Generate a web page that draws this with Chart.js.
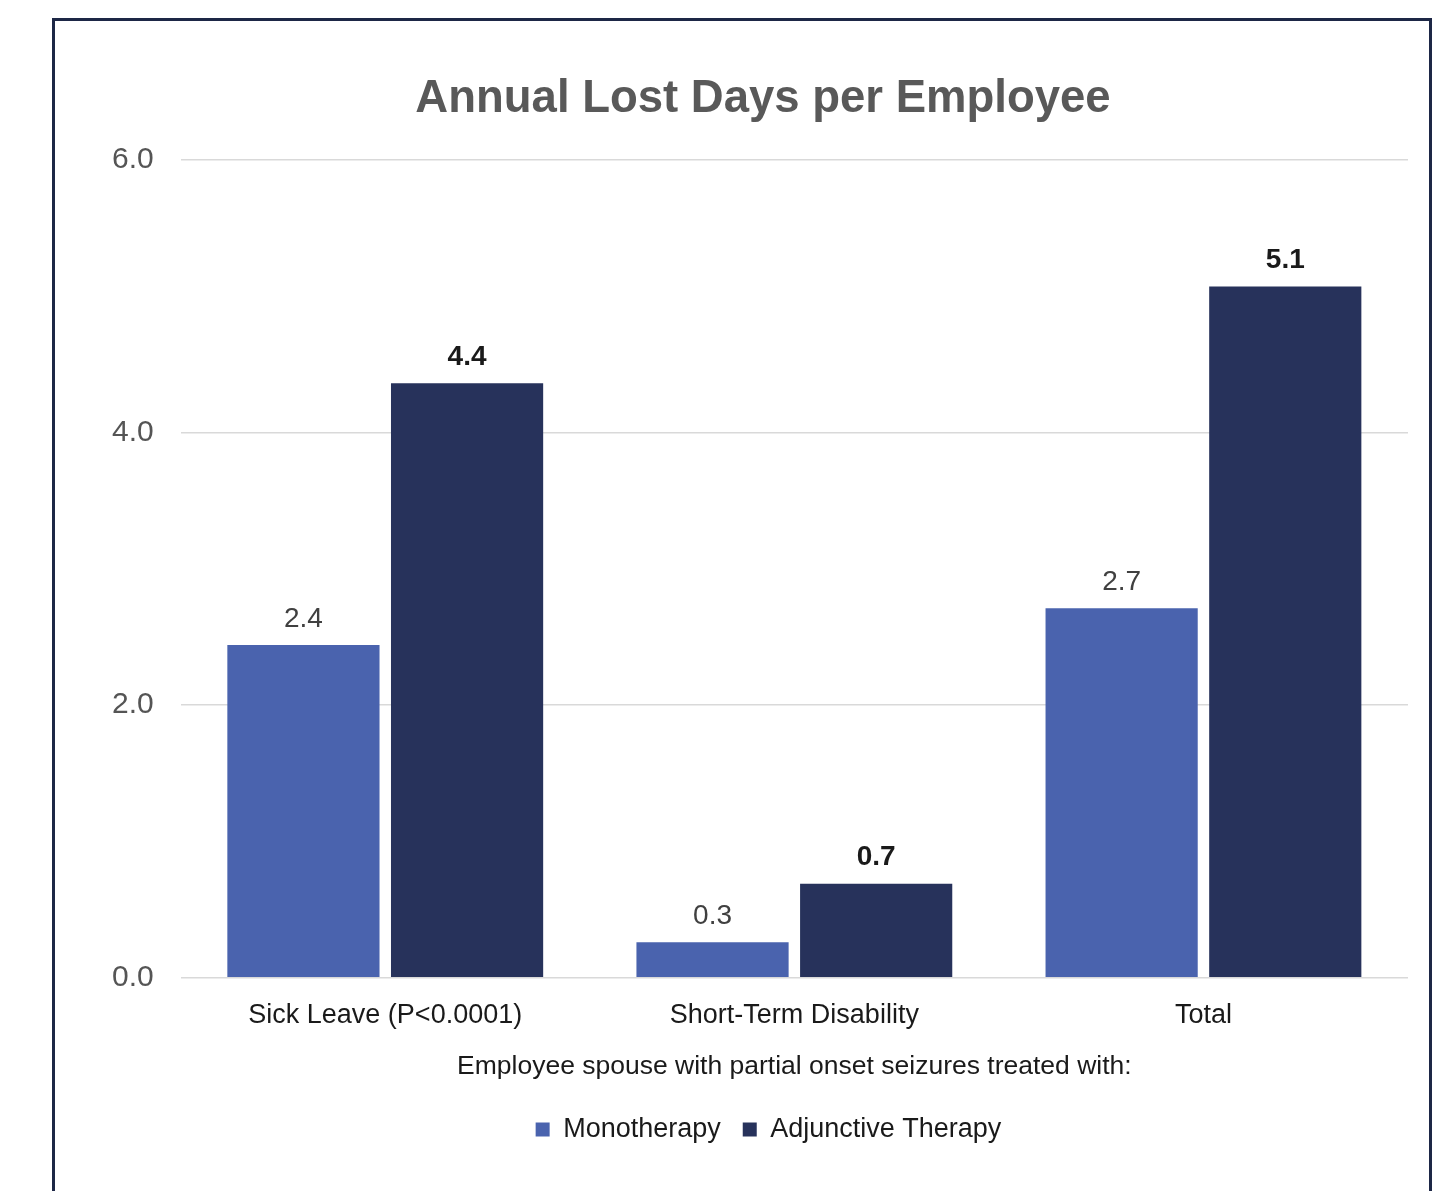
<!DOCTYPE html>
<html>
<head>
<meta charset="utf-8">
<script src="https://cdn.jsdelivr.net/npm/chart.js@4/dist/chart.umd.min.js"></script>
<style>
  html, body { margin: 0; padding: 0; background: #ffffff; }
  body { width: 1452px; height: 1191px; position: relative; overflow: hidden; }
  #frame { position: absolute; left: 52px; top: 18px; width: 1374px; height: 1200px;
           border-top: 3px solid #1d2746; border-left: 3px solid #1d2746; border-right: 3px solid #1d2746; }
  #wrap { position: absolute; left: 0; top: 0; width: 1452px; height: 1191px; }
</style>
</head>
<body>
<div id="frame"></div>
<div id="wrap"><canvas id="c" width="1452" height="1191"></canvas></div>
<script>
const categories = ["Sick Leave (P<0.0001)", "Short-Term Disability", "Total"];
const seriesNames = ["Monotherapy", "Adjunctive Therapy"];
const monotherapy = [2.44, 0.26, 2.71];
const adjunctive = [4.36, 0.69, 5.07];
const yTicks = [0, 2, 4, 6];
const chartTitle = "Annual Lost Days per Employee";
const xAxisTitle = "Employee spouse with partial onset seizures treated with:";

const FONT = "'Liberation Sans', Arial, Helvetica, sans-serif";

const valueLabels = {
  id: 'valueLabels',
  afterDatasetsDraw(chart) {
    const ctx = chart.ctx;
    chart.data.datasets.forEach((ds, i) => {
      const meta = chart.getDatasetMeta(i);
      meta.data.forEach((bar, j) => {
        const v = ds.data[j];
        ctx.save();
        ctx.font = (i === 1 ? 'bold ' : '') + '28px ' + FONT;
        ctx.fillStyle = i === 1 ? '#1a1a1a' : '#404040';
        ctx.textAlign = 'center';
        ctx.textBaseline = 'bottom';
        ctx.fillText(v.toFixed(1), bar.x, bar.y - 12);
        ctx.restore();
      });
    });
  }
};

// shift the centred title and legend slightly right, as in the original slide
const nudge = {
  id: 'nudge',
  afterLayout(chart) {
    if (chart.titleBlock) chart.titleBlock.left += 33;
    if (chart.legend) { chart.legend.left += 44; }
  }
};

new Chart(document.getElementById('c'), {
  type: 'bar',
  data: {
    labels: categories,
    datasets: [
      { label: seriesNames[0], data: monotherapy, backgroundColor: '#4A63AE',
        categoryPercentage: 0.80, barPercentage: 0.93 },
      { label: seriesNames[1], data: adjunctive, backgroundColor: '#27325B',
        categoryPercentage: 0.80, barPercentage: 0.93 }
    ]
  },
  options: {
    responsive: false,
    animation: false,
    events: [],
    layout: { padding: { left: 85, right: 44, top: 0, bottom: 38 } },
    plugins: {
      title: {
        display: true, text: chartTitle, color: '#595959',
        font: { family: FONT, size: 45.5, weight: 'bold' },
        padding: { top: 72, bottom: 33 }
      },
      legend: {
        position: 'bottom',
        labels: {
          color: '#1a1a1a', boxWidth: 14, boxHeight: 14, padding: 22,
          font: { family: FONT, size: 27 }
        }
      },
      tooltip: { enabled: false }
    },
    scales: {
      x: {
        grid: { display: false, drawTicks: false },
        border: { display: false },
        ticks: { color: '#1a1a1a', font: { family: FONT, size: 27 }, padding: 22 },
        title: { display: true, text: xAxisTitle, color: '#1a1a1a',
                 font: { family: FONT, size: 26.5 }, padding: { top: -3, bottom: 11 } }
      },
      y: {
        min: 0, max: 6,
        afterBuildTicks(axis) { axis.ticks = yTicks.map(v => ({ value: v })); },
        grid: { color: '#d9d9d9', lineWidth: 1.5, drawTicks: false },
        border: { display: false },
        ticks: { color: '#555555', font: { family: FONT, size: 30 }, padding: 27,
                 callback: v => Number(v).toFixed(1) }
      }
    }
  },
  plugins: [valueLabels, nudge]
});
</script>
</body>
</html>
